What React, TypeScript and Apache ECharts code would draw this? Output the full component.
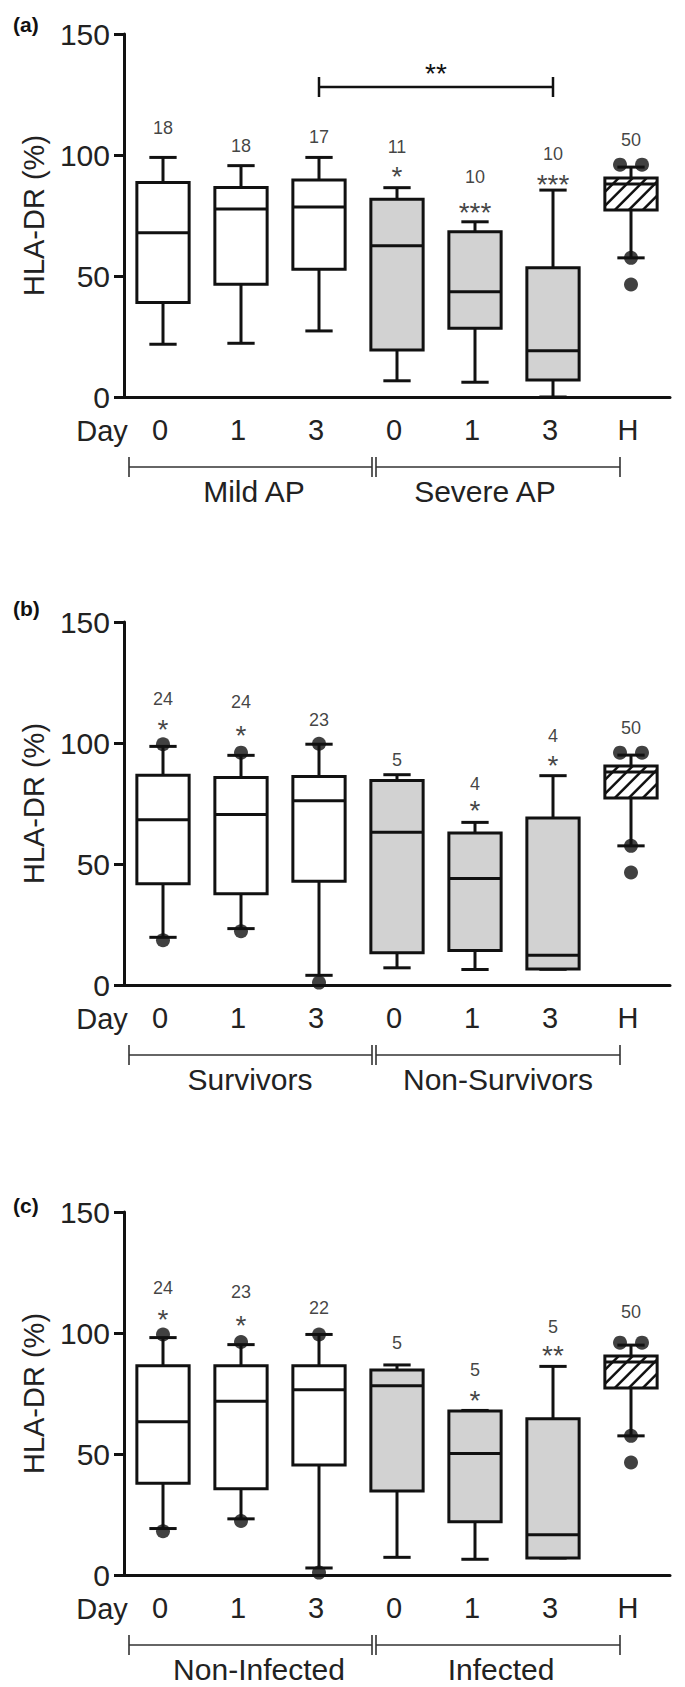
import React, { useEffect, useRef } from "react";
import * as echarts from "echarts";

// ---------- data ----------
const categories = ["0", "1", "3", "0", "1", "3", "H"];
const boxKinds = ["open", "open", "open", "grey", "grey", "grey", "hatched"];

// [min, Q1, median, Q3, max]
const healthyBox = [57.5, 77.3, 88, 90.5, 95];
const healthyOutliers = [96, 96, 57.5, 46.5];

const boxesA = [
  [21.8, 39.1, 67.9, 88.6, 99.0],
  [22.2, 46.6, 77.7, 86.6, 95.6],
  [27.3, 52.8, 78.5, 89.7, 99.0],
  [6.7, 19.4, 62.5, 81.7, 86.5],
  [6.1, 28.4, 43.5, 68.3, 72.4],
  [0, 7.0, 19.1, 53.4, 85.5],
  healthyBox,
];
const boxesB = [
  [19.7, 41.8, 68.3, 86.7, 98.6],
  [23.3, 37.7, 70.5, 85.7, 94.9],
  [4.0, 42.9, 76.1, 86.2, 99.5],
  [7.1, 13.3, 63.1, 84.5, 86.9],
  [6.4, 14.3, 44.0, 62.8, 67.2],
  [6.5, 6.6, 12.3, 69.0, 86.5],
  healthyBox,
];
const boxesC = [
  [19.2, 37.9, 63.3, 86.5, 98.1],
  [23.2, 35.6, 71.8, 86.5, 95.2],
  [2.9, 45.5, 76.6, 86.5, 99.4],
  [7.3, 34.7, 78.2, 84.7, 86.8],
  [6.5, 22.0, 50.2, 67.8, 68.0],
  [7.0, 7.0, 16.6, 64.6, 86.2],
  healthyBox,
];

// outliers: [categoryIndex, value]
const outliersA: number[][] = [];
const outliersB = [[0, 99.5], [0, 18.5], [1, 96], [1, 22.2], [2, 99.7], [2, 1.0]];
const outliersC = [[0, 99.4], [0, 18.1], [1, 96.3], [1, 22.3], [2, 99.4], [2, 1.0]];

// sample size labels
const nA = ["18", "18", "17", "11", "10", "10", "50"];
const nPosA = [111.2, 103.7, 107.4, 103.3, 90.9, 100.4, 106.2];
const nB = ["24", "24", "23", "5", "4", "4", "50"];
const nPosB = [118.2, 117.0, 109.6, 93.1, 83.2, 102.7, 106.0];
const nC = ["24", "23", "22", "5", "5", "5", "50"];
const nPosC = [118.4, 116.9, 110.2, 96.0, 84.7, 102.5, 108.7];

// significance stars
const starsA = ["", "", "", "*", "***", "***", ""];
const starPosA = [0, 0, 0, 93.4, 78.9, 90.1, 0];
const starsB = ["*", "*", "", "", "*", "*", ""];
const starPosB = [107.9, 105.7, 0, 0, 74.6, 93.1, 0];
const starsC = ["*", "*", "", "", "*", "**", ""];
const starPosC = [107.9, 105.6, 0, 0, 74.6, 93.2, 0];

// bracket comparison in panel (a): [fromCat, toCat, barValue, textValue]
const sigBarA = [[2, 5, 128.1, 136]];
const sigBarTextA = "**";

const panelLetters = ["(a)", "(b)", "(c)"];
const groupLabels = [
  ["Mild AP", "Severe AP"],
  ["Survivors", "Non-Survivors"],
  ["Non-Infected", "Infected"],
];
const yTitle = "HLA-DR (%)";
const dayLabel = "Day";

// ---------- layout ----------
const W = 685;
const H = 1687;
const gridLeft = 124;
const gridWidth = 546;
const gridHeight = 363;
const panelTop = [34, 622, 1212];
const letterY = [26, 610, 1207];
const groupLabelX = [
  [254, 485],
  [250, 498],
  [259, 501],
];
const NARROW = "'Liberation Sans Narrow', 'Liberation Sans', Arial, sans-serif";
const SANS = "'Liberation Sans', Arial, sans-serif";
const INK = "#111";
const TXT = "#222";

function boxRenderer(params: any, api: any) {
  const i = api.value(0);
  const vmin = api.value(1);
  const q1 = api.value(2);
  const med = api.value(3);
  const q3 = api.value(4);
  const vmax = api.value(5);
  const cx = api.coord([i, med])[0];
  const y = (v: number) => api.coord([i, v])[1];
  const band = api.size([1, 0])[0];
  const bw = band * 0.67;
  const cw = band * 0.35;
  const kind = boxKinds[i];
  const fill = kind === "grey" ? "#d2d2d2" : "#ffffff";
  const lw = 3;
  const yMin = y(vmin), yQ1 = y(q1), yMed = y(med), yQ3 = y(q3), yMax = y(vmax);
  const x0 = cx - bw / 2, x1 = cx + bw / 2;
  const st = { stroke: INK, lineWidth: lw };
  const children: any[] = [
    { type: "line", shape: { x1: cx, y1: yQ3, x2: cx, y2: yMax }, style: st },
    { type: "line", shape: { x1: cx, y1: yQ1, x2: cx, y2: yMin }, style: st },
    { type: "line", shape: { x1: cx - cw / 2, y1: yMax, x2: cx + cw / 2, y2: yMax }, style: st },
    { type: "line", shape: { x1: cx - cw / 2, y1: yMin, x2: cx + cw / 2, y2: yMin }, style: st },
    { type: "rect", shape: { x: x0, y: yQ3, width: bw, height: yQ1 - yQ3 }, style: { fill, stroke: "none" } },
  ];
  if (kind === "hatched") {
    const h = yQ1 - yQ3;
    const step = 14;
    for (let t = x0 - h; t < x1; t += step) {
      const sLo = Math.max(0, (x0 - t) / h);
      const sHi = Math.min(1, (x1 - t) / h);
      if (sHi > sLo) {
        children.push({
          type: "line",
          shape: { x1: t + sLo * h, y1: yQ1 - sLo * h, x2: t + sHi * h, y2: yQ1 - sHi * h },
          style: { stroke: INK, lineWidth: 2.5 },
        });
      }
    }
  }
  children.push({ type: "line", shape: { x1: x0, y1: yMed, x2: x1, y2: yMed }, style: st });
  children.push({
    type: "rect",
    shape: { x: x0, y: yQ3, width: bw, height: yQ1 - yQ3 },
    style: { fill: "none", stroke: INK, lineWidth: lw },
  });
  return { type: "group", children };
}

function sigRenderer(params: any, api: any) {
  const a = api.coord([api.value(0), api.value(2)]);
  const b = api.coord([api.value(1), api.value(2)]);
  const ty = api.coord([api.value(0), api.value(3)])[1];
  const st = { stroke: INK, lineWidth: 2.5 };
  return {
    type: "group",
    children: [
      { type: "line", shape: { x1: a[0], y1: a[1], x2: b[0], y2: b[1] }, style: st },
      { type: "line", shape: { x1: a[0], y1: a[1] - 10, x2: a[0], y2: a[1] + 10 }, style: st },
      { type: "line", shape: { x1: b[0], y1: b[1] - 10, x2: b[0], y2: b[1] + 10 }, style: st },
      {
        type: "text",
        x: (a[0] + b[0]) / 2,
        y: ty + 6,
        style: { text: sigBarTextA, fontSize: 28, fontFamily: SANS, fill: INK, align: "center", verticalAlign: "middle" },
      },
    ],
  };
}

function outlierItems(list: number[][]) {
  const all = list.concat(healthyOutliers.map((v) => [6, v]));
  const groups: Record<string, number[][]> = {};
  all.forEach((p) => {
    const k = p[0] + "_" + p[1];
    (groups[k] = groups[k] || []).push(p);
  });
  const items: any[] = [];
  Object.keys(groups).forEach((k) => {
    const g = groups[k];
    g.forEach((p, j) => {
      items.push({ value: p, symbolOffset: [(j - (g.length - 1) / 2) * 22, 0] });
    });
  });
  return items;
}

function buildOption() {
  const boxes = [boxesA, boxesB, boxesC];
  const outs = [outliersA, outliersB, outliersC];
  const ns = [nA, nB, nC];
  const nPos = [nPosA, nPosB, nPosC];
  const stars = [starsA, starsB, starsC];
  const starPos = [starPosA, starPosB, starPosC];

  const grid: any[] = [];
  const xAxis: any[] = [];
  const yAxis: any[] = [];
  const series: any[] = [];
  const graphic: any[] = [];

  for (let p = 0; p < 3; p++) {
    grid.push({ left: gridLeft, top: panelTop[p], width: gridWidth, height: gridHeight });
    xAxis.push({
      type: "category",
      gridIndex: p,
      data: categories,
      axisLine: { lineStyle: { color: INK, width: 3 } },
      axisTick: { alignWithLabel: true, length: 11, lineStyle: { color: INK, width: 3 } },
      axisLabel: { fontSize: 29, fontFamily: NARROW, color: TXT, margin: 18, padding: [0, 6, 0, 0] },
      splitLine: { show: false },
    });
    yAxis.push({
      type: "value",
      gridIndex: p,
      min: 0,
      max: 150,
      interval: 50,
      name: yTitle,
      nameLocation: "middle",
      nameGap: 76,
      nameTextStyle: { fontSize: 29, fontFamily: NARROW, color: TXT },
      axisLine: { show: true, lineStyle: { color: INK, width: 3 } },
      axisTick: { show: true, length: 10, lineStyle: { color: INK, width: 3 } },
      axisLabel: { fontSize: 30, fontFamily: NARROW, color: TXT, margin: 14 },
      splitLine: { show: false },
    });

    series.push({
      type: "custom",
      xAxisIndex: p,
      yAxisIndex: p,
      renderItem: boxRenderer,
      encode: { x: 0, y: [1, 2, 3, 4, 5] },
      data: boxes[p].map((b, i) => [i, ...b]),
      z: 2,
    });
    series.push({
      type: "scatter",
      xAxisIndex: p,
      yAxisIndex: p,
      symbol: "circle",
      symbolSize: 14,
      itemStyle: { color: INK },
      data: outlierItems(outs[p]),
      z: 5,
    });
    series.push({
      type: "scatter",
      xAxisIndex: p,
      yAxisIndex: p,
      symbolSize: 1,
      itemStyle: { color: "rgba(0,0,0,0)" },
      label: { show: true, position: "inside", formatter: "{b}", fontSize: 18, fontFamily: SANS, color: INK },
      data: ns[p].map((t, i) => ({ name: t, value: [i, nPos[p][i]] })),
      z: 6,
    });
    series.push({
      type: "scatter",
      xAxisIndex: p,
      yAxisIndex: p,
      symbolSize: 1,
      itemStyle: { color: "rgba(0,0,0,0)" },
      label: {
        show: true,
        position: "inside",
        formatter: "{b}",
        fontSize: 28,
        fontFamily: SANS,
        color: INK,
        offset: [0, 6],
      },
      data: stars[p]
        .map((t, i) => ({ name: t, value: [i, starPos[p][i]] }))
        .filter((d) => d.name !== ""),
      z: 6,
    });
    if (p === 0) {
      series.push({
        type: "custom",
        xAxisIndex: 0,
        yAxisIndex: 0,
        renderItem: sigRenderer,
        encode: { x: [0, 1], y: [2, 3] },
        data: sigBarA,
        z: 4,
      });
    }

    const zeroY = panelTop[p] + gridHeight;
    graphic.push({
      type: "text",
      left: 13,
      top: letterY[p] - 12,
      style: { text: panelLetters[p], fontSize: 21, fontWeight: "bold", fontFamily: SANS, fill: "#111" },
    });
    graphic.push({
      type: "text",
      x: 102,
      y: zeroY + 34,
      style: { text: dayLabel, fontSize: 29, fontFamily: NARROW, fill: TXT, align: "center", verticalAlign: "middle" },
    });
    const by = zeroY + 70;
    const bst = { stroke: "#333", lineWidth: 1.6 };
    const segs = [
      [129, by, 372, by],
      [376, by, 620, by],
      [129, by - 10, 129, by + 10],
      [372, by - 10, 372, by + 10],
      [376, by - 10, 376, by + 10],
      [620, by - 10, 620, by + 10],
    ];
    segs.forEach((s) =>
      graphic.push({ type: "line", shape: { x1: s[0], y1: s[1], x2: s[2], y2: s[3] }, style: bst })
    );
    groupLabels[p].forEach((t, k) =>
      graphic.push({
        type: "text",
        x: groupLabelX[p][k],
        y: zeroY + 94,
        style: { text: t, fontSize: 30, fontFamily: NARROW, fill: TXT, align: "center", verticalAlign: "middle" },
      })
    );
  }

  return {
    animation: false,
    backgroundColor: "#ffffff",
    textStyle: { fontFamily: SANS },
    grid,
    xAxis,
    yAxis,
    series,
    graphic,
  };
}

export default function App() {
  const ref = useRef<HTMLDivElement>(null);
  useEffect(() => {
    if (!ref.current) return;
    const chart = echarts.init(ref.current, undefined, { renderer: "svg" });
    chart.setOption(buildOption() as any);
    return () => chart.dispose();
  }, []);
  return (
    <div
      ref={ref}
      style={{ position: "absolute", left: 0, top: 0, width: W, height: H, background: "#fff" }}
    />
  );
}
